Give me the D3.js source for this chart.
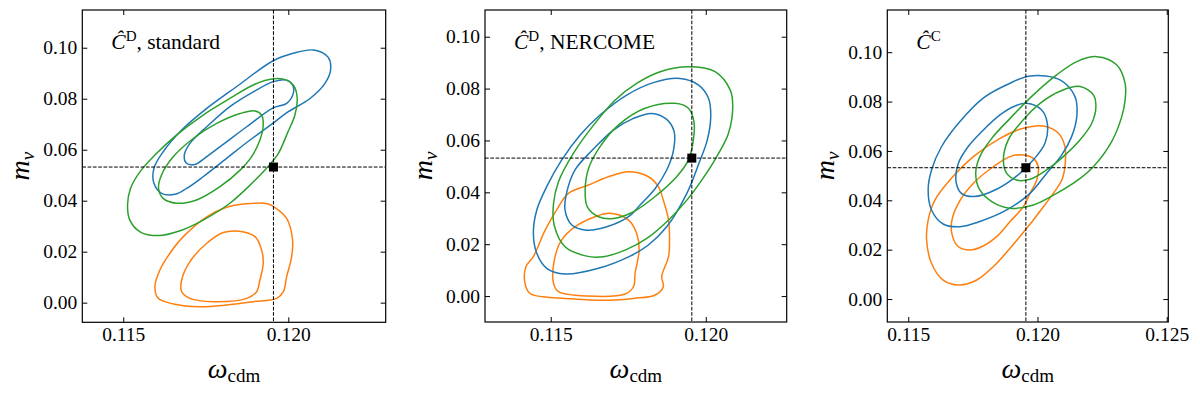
<!DOCTYPE html>
<html lang="en">
<head>
<meta charset="UTF-8">
<title>omega_cdm - m_nu contours</title>
<script src="https://cdn.jsdelivr.net/npm/d3@7"></script>
<style>
  body { margin: 0; background: #fff; }
  svg text { font-family: "Liberation Serif", "Times New Roman", "DejaVu Serif", serif; fill: #000; }
</style>
</head>
<body>
<svg id="chart" width="1200" height="396"></svg>
<script>
// fiducial point (dashed cross + square)
const fidOmega = 0.11955;
const fidMnu = 0.0532;

const yTicks = [0, 0.02, 0.04, 0.06, 0.08, 0.10];
const xTicksAB = [0.115, 0.120];
const xTicksC = [0.115, 0.120, 0.125];

const titleSup = ["D", "D", "C"];
const titleRest = [", standard", ", NERCOME", ""];

// contours: [omega_cdm, m_nu]
// panel 1: C^D standard
const p1BlueOuter = [[0.12076,0.0991],[0.12121,0.0962],[0.12128,0.0912],[0.12111,0.0860],[0.12066,0.0801],[0.12000,0.0749],[0.11953,0.0703],[0.11884,0.0638],[0.11813,0.0566],[0.11742,0.0494],[0.11692,0.0448],[0.11657,0.0425],[0.11616,0.0429],[0.11593,0.0468],[0.11593,0.0527],[0.11621,0.0592],[0.11677,0.0677],[0.11753,0.0762],[0.11843,0.0847],[0.11953,0.0948],[0.12015,0.0978]];
const p1BlueInner = [[0.11995,0.0873],[0.12013,0.0854],[0.12015,0.0821],[0.11995,0.0782],[0.11953,0.0763],[0.11874,0.0690],[0.11813,0.0631],[0.11753,0.0573],[0.11717,0.0542],[0.11690,0.0549],[0.11685,0.0579],[0.11702,0.0625],[0.11753,0.0690],[0.11823,0.0769],[0.11894,0.0827],[0.11955,0.0867]];
const p1GreenOuter = [[0.11955,0.0878],[0.11995,0.0873],[0.12017,0.0850],[0.12027,0.0801],[0.12020,0.0736],[0.11997,0.0664],[0.11970,0.0586],[0.11934,0.0527],[0.11884,0.0461],[0.11823,0.0390],[0.11742,0.0324],[0.11672,0.0282],[0.11606,0.0263],[0.11551,0.0278],[0.11520,0.0324],[0.11513,0.0383],[0.11522,0.0448],[0.11551,0.0514],[0.11596,0.0579],[0.11662,0.0658],[0.11742,0.0736],[0.11823,0.0801],[0.11894,0.0854]];
const p1GreenInner = [[0.11899,0.0752],[0.11919,0.0736],[0.11924,0.0697],[0.11914,0.0638],[0.11889,0.0573],[0.11854,0.0520],[0.11793,0.0455],[0.11722,0.0403],[0.11662,0.0390],[0.11621,0.0409],[0.11607,0.0448],[0.11616,0.0501],[0.11652,0.0573],[0.11712,0.0644],[0.11783,0.0703],[0.11854,0.0742]];
const p1OrangeOuter = [[0.11864,0.0387],[0.11939,0.0387],[0.11970,0.0363],[0.11995,0.0331],[0.12013,0.0246],[0.12010,0.0180],[0.11995,0.0102],[0.11985,0.0043],[0.11965,0.0017],[0.11894,0.0004],[0.11813,-0.0009],[0.11732,-0.0016],[0.11652,-0.0005],[0.11606,0.0017],[0.11596,0.0063],[0.11611,0.0128],[0.11641,0.0193],[0.11682,0.0259],[0.11753,0.0337],[0.11813,0.0374]];
const p1OrangeInner = [[0.11843,0.0281],[0.11899,0.0259],[0.11919,0.0207],[0.11924,0.0154],[0.11914,0.0089],[0.11904,0.0043],[0.11874,0.0017],[0.11773,0.0004],[0.11702,0.0017],[0.11677,0.0043],[0.11677,0.0089],[0.11702,0.0161],[0.11753,0.0233],[0.11803,0.0275]];

// panel 2: C^D NERCOME
const p2BlueOuter = [[0.11917,0.0839],[0.11976,0.0814],[0.12009,0.0762],[0.12016,0.0692],[0.12005,0.0602],[0.11978,0.0512],[0.11939,0.0396],[0.11874,0.0267],[0.11815,0.0197],[0.11756,0.0154],[0.11654,0.0107],[0.11546,0.0085],[0.11487,0.0107],[0.11455,0.0165],[0.11444,0.0242],[0.11455,0.0332],[0.11487,0.0422],[0.11535,0.0524],[0.11595,0.0621],[0.11659,0.0698],[0.11745,0.0775],[0.11831,0.0823]];
const p2BlueInner = [[0.11826,0.0704],[0.11874,0.0681],[0.11898,0.0634],[0.11896,0.0563],[0.11874,0.0486],[0.11837,0.0415],[0.11788,0.0351],[0.11751,0.0306],[0.11681,0.0267],[0.11616,0.0254],[0.11568,0.0274],[0.11546,0.0332],[0.11552,0.0402],[0.11578,0.0486],[0.11632,0.0560],[0.11702,0.0640],[0.11767,0.0685]];
const p2GreenOuter = [[0.11944,0.0884],[0.12030,0.0865],[0.12079,0.0794],[0.12087,0.0730],[0.12073,0.0627],[0.12035,0.0537],[0.11987,0.0447],[0.11939,0.0370],[0.11880,0.0293],[0.11810,0.0222],[0.11740,0.0177],[0.11670,0.0152],[0.11616,0.0154],[0.11546,0.0190],[0.11511,0.0274],[0.11509,0.0357],[0.11525,0.0441],[0.11573,0.0550],[0.11638,0.0659],[0.11708,0.0756],[0.11777,0.0820],[0.11853,0.0865]];
const p2GreenInner = [[0.11901,0.0743],[0.11944,0.0724],[0.11962,0.0672],[0.11960,0.0602],[0.11944,0.0524],[0.11906,0.0460],[0.11842,0.0389],[0.11767,0.0325],[0.11702,0.0299],[0.11654,0.0306],[0.11618,0.0344],[0.11611,0.0409],[0.11622,0.0492],[0.11659,0.0576],[0.11718,0.0659],[0.11804,0.0724]];
const p2OrangeOuter = [[0.11751,0.0479],[0.11815,0.0460],[0.11847,0.0422],[0.11863,0.0370],[0.11880,0.0293],[0.11883,0.0216],[0.11880,0.0152],[0.11858,0.0075],[0.11863,0.0036],[0.11837,0.0004],[0.11767,-0.0009],[0.11708,-0.0015],[0.11627,-0.0015],[0.11546,-0.0009],[0.11476,-0.0003],[0.11433,0.0010],[0.11417,0.0049],[0.11420,0.0113],[0.11444,0.0152],[0.11482,0.0254],[0.11525,0.0344],[0.11557,0.0396],[0.11622,0.0428],[0.11686,0.0460]];
const p2OrangeInner = [[0.11691,0.0319],[0.11751,0.0293],[0.11777,0.0242],[0.11785,0.0177],[0.11772,0.0087],[0.11767,0.0036],[0.11740,0.0008],[0.11622,0.0000],[0.11525,0.0017],[0.11509,0.0049],[0.11514,0.0152],[0.11535,0.0216],[0.11578,0.0267],[0.11643,0.0306]];

// panel 3: C^C
const p3BlueOuter = [[0.11971,0.0904],[0.12087,0.0888],[0.12145,0.0820],[0.12152,0.0739],[0.12132,0.0658],[0.12094,0.0584],[0.12035,0.0509],[0.11971,0.0428],[0.11881,0.0361],[0.11777,0.0314],[0.11700,0.0293],[0.11635,0.0304],[0.11590,0.0361],[0.11577,0.0442],[0.11590,0.0523],[0.11629,0.0618],[0.11700,0.0719],[0.11790,0.0814],[0.11881,0.0868]];
const p3BlueInner = [[0.11958,0.0793],[0.12016,0.0766],[0.12038,0.0712],[0.12029,0.0631],[0.11984,0.0564],[0.11932,0.0509],[0.11842,0.0445],[0.11752,0.0415],[0.11706,0.0428],[0.11685,0.0476],[0.11694,0.0550],[0.11732,0.0618],[0.11784,0.0678],[0.11855,0.0746],[0.11913,0.0782]];
const p3GreenOuter = [[0.12229,0.0982],[0.12306,0.0949],[0.12339,0.0874],[0.12339,0.0807],[0.12326,0.0739],[0.12287,0.0638],[0.12216,0.0536],[0.12165,0.0489],[0.12074,0.0428],[0.11984,0.0381],[0.11894,0.0368],[0.11823,0.0395],[0.11777,0.0442],[0.11761,0.0509],[0.11777,0.0577],[0.11823,0.0651],[0.11894,0.0732],[0.11984,0.0827],[0.12074,0.0908],[0.12152,0.0962]];
const p3GreenInner = [[0.12165,0.0861],[0.12216,0.0827],[0.12226,0.0780],[0.12210,0.0712],[0.12165,0.0645],[0.12100,0.0577],[0.12035,0.0523],[0.11971,0.0485],[0.11919,0.0482],[0.11881,0.0509],[0.11868,0.0564],[0.11887,0.0645],[0.11939,0.0719],[0.12010,0.0793],[0.12094,0.0845]];
const p3OrangeOuter = [[0.12023,0.0701],[0.12081,0.0672],[0.12106,0.0618],[0.12106,0.0536],[0.12094,0.0482],[0.12023,0.0374],[0.11932,0.0253],[0.11829,0.0131],[0.11765,0.0077],[0.11700,0.0057],[0.11635,0.0077],[0.11590,0.0145],[0.11571,0.0239],[0.11577,0.0320],[0.11603,0.0401],[0.11661,0.0482],[0.11752,0.0577],[0.11855,0.0651],[0.11945,0.0692]];
const p3OrangeInner = [[0.11945,0.0584],[0.11984,0.0570],[0.12003,0.0536],[0.11997,0.0482],[0.11971,0.0428],[0.11945,0.0374],[0.11894,0.0314],[0.11842,0.0253],[0.11784,0.0212],[0.11739,0.0199],[0.11694,0.0212],[0.11670,0.0259],[0.11668,0.0314],[0.11694,0.0388],[0.11752,0.0469],[0.11829,0.0536],[0.11894,0.0577]];

const colors = { blue: "#1f77b4", orange: "#ff7f0e", green: "#2ca02c" };

const panels = [
  { left: 82.3, right: 385.7, top: 10, bottom: 322.3, xDom: [0.11376, 0.12295], yDom: [-0.0077, 0.1148], xTicks: xTicksAB,
    contours: [[p1OrangeOuter, "orange"], [p1OrangeInner, "orange"], [p1BlueOuter, "blue"], [p1BlueInner, "blue"], [p1GreenOuter, "green"], [p1GreenInner, "green"]] },
  { left: 485, right: 786.7, top: 10, bottom: 322, xDom: [0.11288, 0.12261], yDom: [-0.0100, 0.1103], xTicks: xTicksAB,
    contours: [[p2OrangeOuter, "orange"], [p2OrangeInner, "orange"], [p2BlueOuter, "blue"], [p2BlueInner, "blue"], [p2GreenOuter, "green"], [p2GreenInner, "green"]] },
  { left: 887.3, right: 1168.3, top: 10, bottom: 322, xDom: [0.11419, 0.12506], yDom: [-0.0093, 0.1171], xTicks: xTicksC,
    contours: [[p3OrangeOuter, "orange"], [p3OrangeInner, "orange"], [p3BlueOuter, "blue"], [p3BlueInner, "blue"], [p3GreenOuter, "green"], [p3GreenInner, "green"]] }
];

const svg = d3.select("#chart");

panels.forEach(function(p, i) {
  const w = p.right - p.left, h = p.bottom - p.top;
  const x = d3.scaleLinear().domain(p.xDom).range([0, w]);
  const y = d3.scaleLinear().domain(p.yDom).range([h, 0]);
  const g = svg.append("g").attr("transform", "translate(" + p.left + "," + p.top + ")");

  g.append("clipPath").attr("id", "clip" + i)
    .append("rect").attr("width", w).attr("height", h);

  const plot = g.append("g").attr("clip-path", "url(#clip" + i + ")");

  const line = d3.line()
    .x(d => x(d[0])).y(d => y(d[1]))
    .curve(d3.curveCatmullRomClosed.alpha(0.5));

  plot.selectAll("path.contour").data(p.contours).enter().append("path")
    .attr("class", "contour")
    .attr("d", d => line(d[0]))
    .attr("fill", "none")
    .attr("stroke", d => colors[d[1]])
    .attr("stroke-width", 1.5)
    .attr("stroke-linejoin", "round");

  // fiducial cross
  plot.append("line")
    .attr("x1", 0).attr("x2", w).attr("y1", y(fidMnu)).attr("y2", y(fidMnu))
    .attr("stroke", "#000").attr("stroke-width", 1).attr("stroke-dasharray", "3.7,1.6");
  plot.append("line")
    .attr("x1", x(fidOmega)).attr("x2", x(fidOmega)).attr("y1", 0).attr("y2", h)
    .attr("stroke", "#000").attr("stroke-width", 1).attr("stroke-dasharray", "3.7,1.6");
  plot.append("rect")
    .attr("x", x(fidOmega) - 4.5).attr("y", y(fidMnu) - 4.5)
    .attr("width", 9).attr("height", 9).attr("fill", "#000");

  // axes, ticks pointing inwards on all four sides
  const axB = g.append("g").attr("transform", "translate(0," + h + ")")
    .call(d3.axisBottom(x).tickValues(p.xTicks).tickFormat(d3.format(".3f")).tickSizeInner(-5).tickSizeOuter(0).tickPadding(5));
  const axT = g.append("g")
    .call(d3.axisTop(x).tickValues(p.xTicks).tickFormat("").tickSizeInner(-5).tickSizeOuter(0));
  const axL = g.append("g")
    .call(d3.axisLeft(y).tickValues(yTicks).tickFormat(d3.format(".2f")).tickSizeInner(-5).tickSizeOuter(0).tickPadding(5));
  const axR = g.append("g").attr("transform", "translate(" + w + ",0)")
    .call(d3.axisRight(y).tickValues(yTicks).tickFormat("").tickSizeInner(-5).tickSizeOuter(0));
  [axB, axT, axL, axR].forEach(function(a) {
    a.attr("font-family", null);
    a.select(".domain").remove();
    a.selectAll("line").attr("stroke", "#000").attr("stroke-width", 1);
    a.selectAll("text").attr("font-size", 19.5).attr("fill", "#000");
  });

  g.append("rect").attr("width", w).attr("height", h)
    .attr("fill", "none").attr("stroke", "#000").attr("stroke-width", 1.2);

  // panel title
  const t = g.append("text").attr("x", 29).attr("y", 39).attr("font-size", 21.5);
  t.append("tspan").attr("font-style", "italic").text("Ĉ");
  t.append("tspan").attr("font-size", 15).attr("dy", -8).text(titleSup[i]);
  t.append("tspan").attr("dy", 8).text(titleRest[i]);

  // x label
  const xl = g.append("text").attr("x", w / 2).attr("y", h + 56).attr("text-anchor", "middle");
  xl.append("tspan").attr("font-style", "italic").attr("font-size", 28).text("ω");
  xl.append("tspan").attr("font-size", 19).attr("dy", 4).text("cdm");

  // y label
  const yl = g.append("text")
    .attr("transform", "translate(-53," + (h / 2) + ") rotate(-90)")
    .attr("text-anchor", "middle");
  yl.append("tspan").attr("font-style", "italic").attr("font-size", 28).text("m");
  yl.append("tspan").attr("font-style", "italic").attr("font-size", 19).attr("dy", 5).text("ν");
});
</script>
</body>
</html>
